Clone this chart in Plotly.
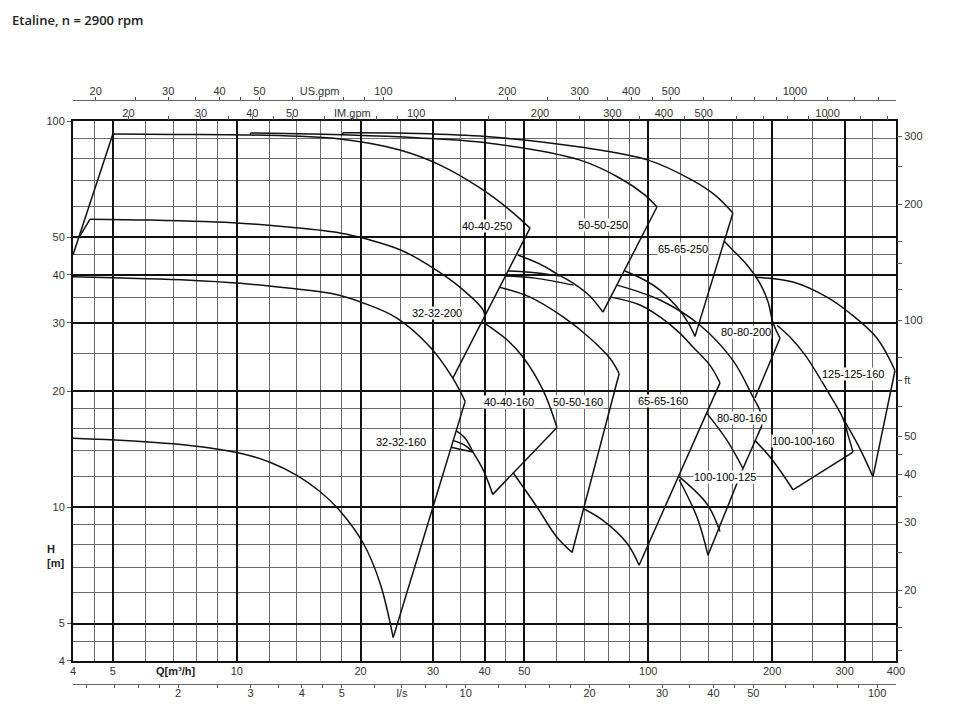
import numpy as np
import plotly.graph_objects as go

# unit factors relative to m3/h and m
US_GPM = 4.40287
IM_GPM = 3.66615
LPS = 1 / 3.6
FT = 3.28084

# axis ticks / grid
x_major = [4, 5, 10, 20, 30, 40, 50, 100, 200, 300, 400]
x_minor = [4.5, 6, 7, 8, 9, 12, 14, 16, 18, 25, 35, 45, 60, 70, 80, 90, 120, 140, 160, 180, 250, 350]
y_major = [4, 5, 10, 20, 30, 40, 50, 100]
y_minor = [4.5, 6, 7, 8, 9, 12, 14, 16, 18, 25, 35, 45, 60, 70, 80, 90]

gpm_ticks = [20, 30, 40, 50, 70, 100, 200, 300, 400, 500, 1000]
gpm_minor = [25, 35, 45, 60, 80, 90, 150, 250, 350, 450, 600, 700, 800, 900, 1200, 1400, 1600]
lps_ticks = [2, 3, 4, 5, 7, 10, 20, 30, 40, 50, 100]
lps_minor = [1.2, 1.4, 1.6, 1.8, 2.5, 3.5, 4.5, 6, 8, 9, 12, 14, 16, 18, 25, 35, 45, 60, 70, 80, 90]
ft_ticks = [20, 30, 40, 50, 70, 100, 200, 300]
ft_minor = [14, 16, 18, 25, 35, 45, 60, 80, 120, 140, 160, 250]

# ---- pump curves, Q [m3/h] / H [m] ----
q_3232160_top = [4.0, 7.0, 10.2, 12.0, 14.0, 15.9, 17.8, 20.3, 22.3, 24.0]
h_3232160_top = [15.1, 14.6, 13.8, 13.1, 12.1, 11.0, 9.8, 8.07, 6.36, 4.6]
q_3232160_edge = [24.0, 35.9]
h_3232160_edge = [4.6, 18.8]

q_3232200_top = [4.0, 7.7, 10.2, 13.5, 16.9, 20.3, 24.5, 29.5, 33.5, 35.9]
h_3232200_top = [39.5, 38.7, 38.0, 36.9, 35.8, 33.8, 30.9, 26.0, 21.6, 18.8]

q_4040250_left = [4.0, 5.0]
h_4040250_left = [45.0, 92.5]
q_4040250_top = [5.0, 7.08, 10.8, 17.8, 24.9, 31.2, 39.0, 46.1, 51.6]
h_4040250_top = [92.5, 92.3, 92.0, 89.8, 84.1, 76.9, 67.1, 58.8, 52.8]
q_4040250_edge = [51.6, 33.5]
h_4040250_edge = [52.8, 21.6]
q_4040250_low_left = [4.16, 4.40]
h_4040250_low_left = [50.4, 55.7]
q_4040250_low = [4.40, 6.16, 10.2, 13.5, 17.8, 21.1, 25.1, 29.5, 34.9, 39.7, 40.1]
h_4040250_low = [55.7, 55.4, 54.4, 53.1, 51.3, 49.2, 46.3, 42.1, 37.1, 32.4, 31.1]

q_5050250_left = [10.8, 10.8]
h_5050250_left = [92.0, 93.1]
q_5050250_top = [10.8, 18.8, 27.9, 39.0, 68.3, 85.4, 98.2, 105]
h_5050250_top = [93.1, 92.0, 90.4, 88.2, 79.2, 71.1, 64.3, 59.9]
q_5050250_edge = [105, 77.6]
h_5050250_edge = [59.9, 32.0]
q_5050250_low1 = [48.2, 54.6, 60.0, 65.8, 72.2, 77.6]
h_5050250_low1 = [45.0, 42.6, 40.2, 38.0, 35.2, 32.0]
q_5050250_low2 = [45.6, 51.6, 61.0]
h_5050250_low2 = [40.9, 40.6, 39.7]
q_5050250_low3 = [44.9, 53.1, 65.8]
h_5050250_low3 = [39.7, 39.2, 37.6]

q_6565250_left = [18.1, 18.1]
h_6565250_left = [92.0, 93.3]
q_6565250_top = [18.1, 24.9, 39.0, 68.3, 100, 127.8, 145.3, 160.6]
h_6565250_top = [93.3, 93.1, 91.4, 85.6, 79.2, 70.3, 64.3, 57.8]
q_6565250_edge = [160.6, 129.9]
h_6565250_edge = [57.8, 27.7]
q_6565250_low = [87.8, 98.2, 106.8, 117.5, 124.9, 129.9]
h_6565250_low = [40.9, 38.7, 36.5, 33.0, 30.1, 27.7]
q_6565250_low2 = [84.0, 106.8, 133.6, 160.6, 179.7, 186.8, 188.9]
h_6565250_low2 = [37.6, 34.4, 29.6, 24.0, 19.3, 17.8, 16.3]

q_4040160_top = [39.9, 45.4, 49.6, 55.5, 60.0]
h_4040160_top = [30.0, 27.1, 24.5, 20.1, 16.1]
q_4040160_edge = [60.0, 41.9]
h_4040160_edge = [16.1, 10.8]
q_4040160_low = [37.5, 39.7, 41.9]
h_4040160_low = [13.9, 12.5, 10.8]
q_4040160_fan1 = [34.1, 35.9, 37.5]
h_4040160_fan1 = [15.8, 15.1, 13.9]
q_4040160_fan2 = [33.5, 35.7, 37.5]
h_4040160_fan2 = [14.9, 14.5, 13.9]
q_4040160_fan3 = [33.2, 35.3, 37.5]
h_4040160_fan3 = [14.3, 14.1, 13.9]

q_5050160_top = [43.6, 51.6, 62.1, 72.2, 80.7, 85.0]
h_5050160_top = [37.1, 35.0, 31.1, 27.4, 24.3, 22.2]
q_5050160_edge = [85.0, 65.3]
h_5050160_edge = [22.2, 7.64]
q_5050160_low = [46.9, 53.7, 60.0, 65.3]
h_5050160_low = [12.3, 10.0, 8.36, 7.64]

q_6565160_top = [81.2, 95.5, 106.8, 119.5, 128.4, 141.3, 149.4]
h_6565160_top = [35.0, 33.4, 31.1, 28.2, 26.0, 23.3, 21.0]
q_6565160_edge = [149.4, 95.0]
h_6565160_edge = [21.0, 7.08]
q_6565160_low = [69.4, 77.6, 88.8, 95.0]
h_6565160_low = [9.94, 9.25, 8.07, 7.08]

q_8080200_top = [152.8, 160.6, 173.8, 186.8, 195.5, 200.9, 209]
h_8080200_top = [48.9, 46.3, 42.4, 38.0, 34.0, 30.1, 27.4]
q_8080200_edge = [209, 181.7]
h_8080200_edge = [27.4, 19.2]

q_8080160_top = [138.9, 155.4, 169.9]
h_8080160_top = [17.5, 14.9, 12.6]
q_8080160_edge = [188.9, 169.9]
h_8080160_edge = [16.3, 12.6]

q_100100125_a = [118.8, 138.9, 149.4]
h_100100125_a = [12.0, 10.2, 8.66]
q_100100125_b = [118.8, 131.4, 139.7]
h_100100125_b = [11.8, 9.42, 7.51]
q_100100125_edge = [139.7, 169.9]
h_100100125_edge = [7.51, 12.6]

q_100100160_top = [205.5, 221, 240.4, 271.9, 297.3, 305.8, 314.4]
h_100100160_top = [29.6, 27.6, 24.8, 20.1, 17.0, 15.4, 13.9]
q_100100160_edge = [314.4, 224.8]
h_100100160_edge = [13.9, 11.1]
q_100100160_low = [181.7, 200.9, 224.8]
h_100100160_low = [14.9, 13.2, 11.1]

q_125125160_top = [181.7, 224.8, 271.9, 309.0, 359.7, 397.8]
h_125125160_top = [39.4, 38.3, 35.0, 31.8, 27.4, 22.6]
q_125125160_edge = [397.8, 351.7]
h_125125160_edge = [22.6, 12.0]
q_125125160_low = [297.3, 323.4, 351.7]
h_125125160_low = [17.0, 14.5, 12.0]

# type labels and where they sit (Q, H)
pump_names = ["32-32-160", "32-32-200", "40-40-250", "50-50-250", "65-65-250", "80-80-200",
              "125-125-160", "40-40-160", "50-50-160", "65-65-160", "80-80-160",
              "100-100-160", "100-100-125"]
name_q = [25.1, 30.6, 40.6, 77.6, 121.5, 172.8, 314.4, 45.9, 67.5, 108.8, 169.4, 237.7, 153.6]
name_h = [14.8, 31.8, 53.5, 53.8, 46.6, 28.4, 22.1, 18.7, 18.7, 18.8, 17.0, 14.85, 12.0]

curves = [
    (q_3232160_top, h_3232160_top, "spline"), (q_3232160_edge, h_3232160_edge, "linear"),
    (q_3232200_top, h_3232200_top, "spline"),
    (q_4040250_left, h_4040250_left, "linear"), (q_4040250_top, h_4040250_top, "spline"),
    (q_4040250_edge, h_4040250_edge, "linear"), (q_4040250_low_left, h_4040250_low_left, "linear"),
    (q_4040250_low, h_4040250_low, "spline"),
    (q_5050250_left, h_5050250_left, "linear"), (q_5050250_top, h_5050250_top, "spline"),
    (q_5050250_edge, h_5050250_edge, "linear"), (q_5050250_low1, h_5050250_low1, "spline"),
    (q_5050250_low2, h_5050250_low2, "spline"), (q_5050250_low3, h_5050250_low3, "spline"),
    (q_6565250_left, h_6565250_left, "linear"), (q_6565250_top, h_6565250_top, "spline"),
    (q_6565250_edge, h_6565250_edge, "linear"), (q_6565250_low, h_6565250_low, "spline"),
    (q_6565250_low2, h_6565250_low2, "spline"),
    (q_4040160_top, h_4040160_top, "spline"), (q_4040160_edge, h_4040160_edge, "linear"),
    (q_4040160_low, h_4040160_low, "spline"), (q_4040160_fan1, h_4040160_fan1, "spline"),
    (q_4040160_fan2, h_4040160_fan2, "spline"), (q_4040160_fan3, h_4040160_fan3, "spline"),
    (q_5050160_top, h_5050160_top, "spline"), (q_5050160_edge, h_5050160_edge, "linear"),
    (q_5050160_low, h_5050160_low, "spline"),
    (q_6565160_top, h_6565160_top, "spline"), (q_6565160_edge, h_6565160_edge, "linear"),
    (q_6565160_low, h_6565160_low, "spline"),
    (q_8080200_top, h_8080200_top, "spline"), (q_8080200_edge, h_8080200_edge, "linear"),
    (q_8080160_top, h_8080160_top, "spline"), (q_8080160_edge, h_8080160_edge, "linear"),
    (q_100100125_a, h_100100125_a, "spline"), (q_100100125_b, h_100100125_b, "spline"),
    (q_100100125_edge, h_100100125_edge, "linear"),
    (q_100100160_top, h_100100160_top, "spline"), (q_100100160_edge, h_100100160_edge, "linear"),
    (q_100100160_low, h_100100160_low, "spline"),
    (q_125125160_top, h_125125160_top, "spline"), (q_125125160_edge, h_125125160_edge, "linear"),
    (q_125125160_low, h_125125160_low, "spline"),
]

fig = go.Figure()
for q, h, shape in curves:
    fig.add_trace(go.Scatter(x=q, y=h, mode="lines", line=dict(color="#111", width=1.5, shape=shape),
                             showlegend=False, hoverinfo="skip"))

arial = "Liberation Sans, Arial, sans-serif"
tick_font = dict(family=arial, size=11, color="#333")
thin_grid = "#6a6a6a"


def fmt(v):
    return str(int(v)) if float(v).is_integer() else str(v)


# page body has an 8px margin, so the figure is drawn 16px smaller
fig.update_layout(
    width=944, height=711, autosize=False,
    margin=dict(l=65, r=56, t=92, b=35),
    paper_bgcolor="white", plot_bgcolor="white",
    xaxis=dict(type="log", range=[np.log10(4), np.log10(400)], domain=[0, 1], anchor="y",
               tickvals=x_major, ticktext=[fmt(v) for v in x_major], ticks="",
               showgrid=True, gridcolor="#111", gridwidth=2,
               minor=dict(tickvals=x_minor, showgrid=True, gridcolor=thin_grid, gridwidth=1.3, ticks=""),
               showline=True, linecolor="#111", linewidth=2, mirror=True,
               zeroline=False, tickfont=tick_font, automargin=False, ticklabelstandoff=-1),
    yaxis=dict(type="log", range=[np.log10(4), 2], domain=[0.0394, 0.964], anchor="x",
               tickvals=y_major, ticktext=[fmt(v) for v in y_major], ticks="outside", ticklen=4,
               tickcolor="#555", showgrid=True, gridcolor="#111", gridwidth=2,
               minor=dict(tickvals=y_minor, showgrid=True, gridcolor=thin_grid, gridwidth=1.3, ticks=""),
               showline=True, linecolor="#111", linewidth=2, mirror=True,
               zeroline=False, tickfont=tick_font, automargin=False),
    xaxis2=dict(type="log", overlaying="x", side="top", anchor="y",
                range=[np.log10(4 * IM_GPM), np.log10(400 * IM_GPM)],
                tickvals=gpm_ticks, ticktext=["IM.gpm" if v == 70 else fmt(v) for v in gpm_ticks],
                ticks="outside", ticklen=4, tickcolor="#555",
                minor=dict(tickvals=gpm_minor, ticks="outside", ticklen=4, tickcolor="#555"),
                showgrid=False, showline=False, zeroline=False, tickfont=tick_font, automargin=False,
                ticklabelstandoff=-5),
    xaxis3=dict(type="log", overlaying="x", side="top", anchor="free", position=1,
                range=[np.log10(4 * US_GPM), np.log10(400 * US_GPM)],
                tickvals=gpm_ticks, ticktext=["US.gpm" if v == 70 else fmt(v) for v in gpm_ticks],
                ticks="outside", ticklen=3, tickcolor="#555",
                minor=dict(tickvals=gpm_minor, ticks="outside", ticklen=3, tickcolor="#555"),
                showgrid=False, showline=True, linecolor="#666", linewidth=1.2,
                zeroline=False, tickfont=tick_font, automargin=False, ticklabelstandoff=-2),
    xaxis4=dict(type="log", overlaying="x", side="bottom", anchor="free", position=0,
                range=[np.log10(4 * LPS), np.log10(400 * LPS)],
                tickvals=lps_ticks, ticktext=["l/s" if v == 7 else fmt(v) for v in lps_ticks],
                ticks="outside", ticklen=3, tickcolor="#555",
                minor=dict(tickvals=lps_minor, ticks="outside", ticklen=3, tickcolor="#555"),
                showgrid=False, showline=True, linecolor="#666", linewidth=1.2,
                zeroline=False, tickfont=tick_font, automargin=False, ticklabelstandoff=-4),
    yaxis2=dict(type="log", overlaying="y", side="right", anchor="x",
                range=[np.log10(4 * FT), np.log10(100 * FT)],
                tickvals=ft_ticks, ticktext=["ft" if v == 70 else fmt(v) for v in ft_ticks],
                ticks="outside", ticklen=5, tickcolor="#555",
                minor=dict(tickvals=ft_minor, ticks="outside", ticklen=5, tickcolor="#555"),
                showgrid=False, showline=False, zeroline=False, tickfont=tick_font, automargin=False),
)

# empty traces so the extra axes get drawn
fig.add_trace(go.Scatter(x=[None], y=[None], xaxis="x2", yaxis="y", showlegend=False, hoverinfo="skip"))
fig.add_trace(go.Scatter(x=[None], y=[None], xaxis="x3", yaxis="y", showlegend=False, hoverinfo="skip"))
fig.add_trace(go.Scatter(x=[None], y=[None], xaxis="x4", yaxis="y", showlegend=False, hoverinfo="skip"))
fig.add_trace(go.Scatter(x=[None], y=[None], xaxis="x", yaxis="y2", showlegend=False, hoverinfo="skip"))

for name, q, h in zip(pump_names, name_q, name_h):
    fig.add_annotation(x=np.log10(q), y=np.log10(h), xref="x", yref="y", text=name, showarrow=False,
                       xanchor="center", yanchor="middle",
                       font=dict(family=arial, size=11, color="#000"),
                       bgcolor="white", borderpad=0)

fig.add_annotation(x=np.log10(7.1), y=0.0223, xref="x", yref="paper", text="<b>Q[m³/h]</b>",
                   showarrow=False, xanchor="center", yanchor="middle",
                   font=dict(family=arial, size=11, color="#222"))
fig.add_annotation(x=-0.0207, y=0.219, xref="paper", yref="paper", text="<b>H<br>[m]</b>",
                   showarrow=False, align="left", xanchor="center", yanchor="middle",
                   font=dict(family=arial, size=11, color="#222"))
fig.add_annotation(x=-0.0766, y=1.137, xref="paper", yref="paper", xanchor="left", yanchor="middle",
                   text="Etaline, n = 2900 rpm", showarrow=False,
                   font=dict(family="Open Sans, sans-serif", size=13, color="#222", weight=600))

fig.write_html("out.html")
